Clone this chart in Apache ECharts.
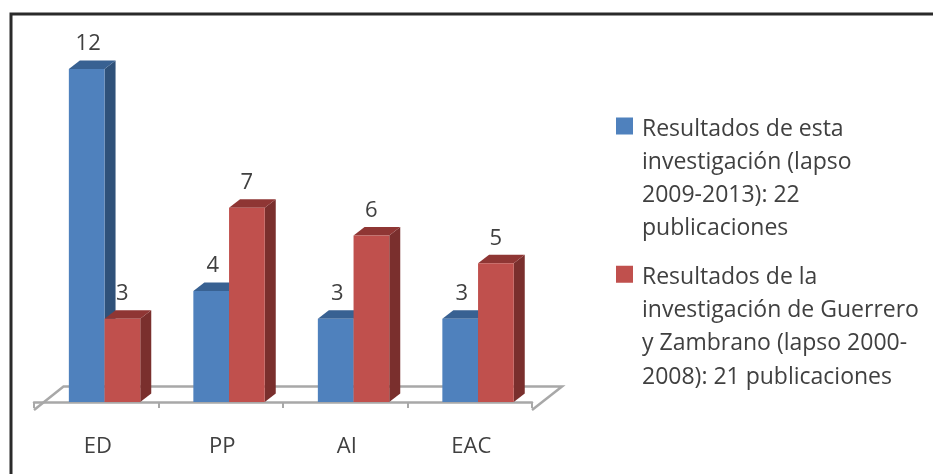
<!DOCTYPE html>
<html>
<head>
<meta charset="utf-8">
<style>
html, body { margin: 0; padding: 0; background: #fff; }
#chart { width: 933px; height: 474px; filter: blur(0.5px); }
</style>
<script src="https://cdn.jsdelivr.net/npm/echarts@6/dist/echarts.min.js"></script>
</head>
<body>
<div id="chart"></div>
<script>
var categories = ['ED', 'PP', 'AI', 'EAC'];
var thisStudy = [12, 4, 3, 3];
var otherStudy = [3, 7, 6, 5];
var thisStudyName = 'Resultados de esta investigación (lapso 2009-2013): 22 publicaciones';
var otherStudyName = 'Resultados de la investigación de Guerrero y Zambrano (lapso 2000-2008): 21 publicaciones';
var thisStudyLines = ['Resultados de esta', 'investigación (lapso', '2009-2013): 22', 'publicaciones'];
var otherStudyLines = ['Resultados de la', 'investigación de Guerrero', 'y Zambrano (lapso 2000-', '2008): 21 publicaciones'];

var BAR_W = 35.7;
var DEPTH_X = 11;
var DEPTH_Y = 8.5;
var SHIFT_X = 8.3;
var TEXT_COLOR = '#404040';

// side = 0 bar left of the band centre, side = 1 right of it
function barItem(side, front, right, top) {
    return function (params, api) {
        var base = api.coord([api.value(0), 0]);
        var head = api.coord([api.value(0), api.value(1)]);
        var x = base[0] + SHIFT_X + (side - 1) * BAR_W;
        return {
            type: 'group',
            children: [
                {
                    type: 'polygon',
                    shape: {points: [[x + BAR_W, head[1]], [x + BAR_W + DEPTH_X, head[1] - DEPTH_Y], [x + BAR_W + DEPTH_X, base[1] - DEPTH_Y], [x + BAR_W, base[1]]]},
                    style: {fill: right}
                },
                {
                    type: 'polygon',
                    shape: {points: [[x, head[1]], [x + DEPTH_X, head[1] - DEPTH_Y], [x + BAR_W + DEPTH_X, head[1] - DEPTH_Y], [x + BAR_W, head[1]]]},
                    style: {fill: top}
                },
                {
                    type: 'rect',
                    shape: {x: x, y: head[1], width: BAR_W, height: base[1] - head[1]},
                    style: {fill: front}
                }
            ]
        };
    };
}

function labelItem(side, dx) {
    return function (params, api) {
        var base = api.coord([api.value(0), 0]);
        var head = api.coord([api.value(0), api.value(1)]);
        return {
            type: 'text',
            x: base[0] + SHIFT_X + (side - 0.5) * BAR_W + dx,
            y: head[1] - 25,
            style: {
                text: String(api.value(1)),
                font: '22px "Open Sans"',
                fill: TEXT_COLOR,
                align: 'center',
                verticalAlign: 'middle'
            }
        };
    };
}

// back edges of the floor, the front edge is the x axis itself
function floorItem(params, api) {
    var left = api.coord([0, 0]);
    var right = api.coord([categories.length - 1, 0]);
    var half = api.size([1, 0])[0] / 2;
    var y = left[1] + 8;
    return {
        type: 'polyline',
        shape: {points: [[left[0] - half, y], [left[0] - half + 29.5, y - 23.5], [right[0] + half + 30, y - 23.5], [right[0] + half, y]]},
        style: {fill: 'none', stroke: '#a8a8a8', lineWidth: 2.5}
    };
}

function toPairs(values) {
    return values.map(function (v, i) { return [i, v]; });
}

function legendText(name) {
    // three blank lines keep the marker next to the first line of text
    var lines = name === thisStudyName ? thisStudyLines : otherStudyLines;
    return '\n\n\n' + lines.join('\n');
}

var chart = echarts.init(document.getElementById('chart'));
chart.setOption({
    animation: false,
    backgroundColor: '#fff',
    graphic: [{
        type: 'polyline',
        shape: {points: [[11, 474], [11, 14], [933, 14]]},
        style: {fill: 'none', stroke: '#2a2a2a', lineWidth: 3}
    }],
    legend: {
        orient: 'vertical',
        left: 616,
        top: 12.5,
        padding: 0,
        // square in the top of a taller box, so the text sits a little lower than the marker
        icon: 'path://M0 0H17V17H0ZM0 23H21Z',
        itemWidth: 21,
        itemHeight: 23,
        itemGap: -85,
        selectedMode: false,
        data: [thisStudyName, otherStudyName],
        formatter: legendText,
        textStyle: {
            fontFamily: 'Open Sans',
            fontSize: 23,
            lineHeight: 33.3,
            color: TEXT_COLOR
        }
    },
    grid: {left: 34, width: 498, top: 13.5, height: 388.5},
    xAxis: {
        type: 'category',
        data: categories,
        offset: 8,
        axisLine: {lineStyle: {color: '#a8a8a8', width: 2.5}},
        axisTick: {show: true, length: 6, lineStyle: {color: '#a8a8a8', width: 2}},
        axisLabel: {
            margin: 26,
            padding: [0, 0, 0, 3],
            fontFamily: 'Open Sans',
            fontSize: 22,
            color: TEXT_COLOR
        }
    },
    yAxis: {
        type: 'value',
        min: 0,
        max: 14,
        show: false
    },
    series: [
        {
            type: 'custom',
            name: 'floor',
            z: 1,
            renderItem: floorItem,
            data: [[0, 0]],
            silent: true
        },
        {
            type: 'custom',
            name: 'other labels',
            z: 2,
            renderItem: labelItem(1, 0),
            data: toPairs(otherStudy),
            silent: true
        },
        {
            type: 'custom',
            name: thisStudyName,
            z: 3,
            renderItem: barItem(0, '#4f81bd', '#2f5179', '#386192'),
            itemStyle: {color: '#4f81bd'},
            data: toPairs(thisStudy)
        },
        {
            type: 'custom',
            name: 'this labels',
            z: 3,
            renderItem: labelItem(0, 1.5),
            data: toPairs(thisStudy),
            silent: true
        },
        {
            type: 'custom',
            name: otherStudyName,
            z: 4,
            renderItem: barItem(1, '#c0504d', '#7a2f2d', '#8f3634'),
            itemStyle: {color: '#c0504d'},
            data: toPairs(otherStudy)
        }
    ]
});
</script>
</body>
</html>
